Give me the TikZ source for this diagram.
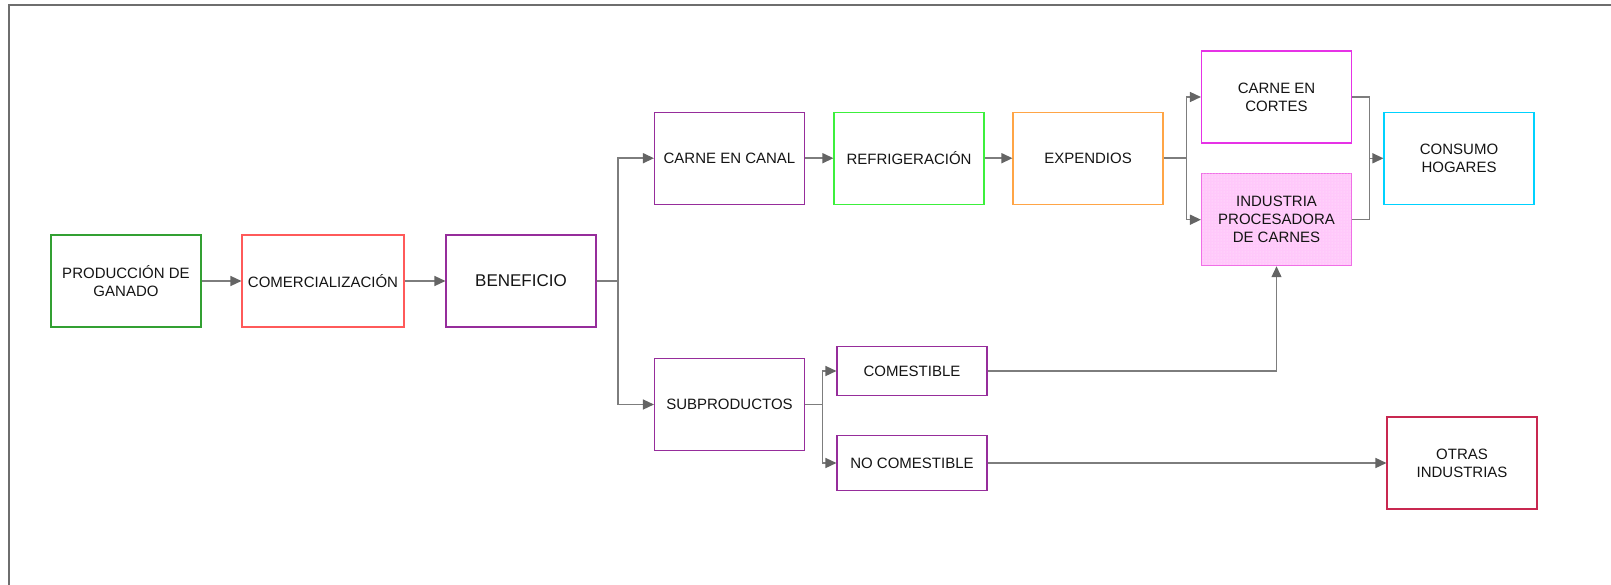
\documentclass[tikz,border=0pt]{standalone}
\usepackage{fontspec}
\setmainfont{Liberation Sans}
\usetikzlibrary{arrows.meta,patterns}
\definecolor{cframe}{RGB}{110,110,110}
\definecolor{cline}{RGB}{125,125,125}
\definecolor{chead}{RGB}{100,100,100}
\definecolor{cgreen}{RGB}{50,160,50}
\definecolor{cred}{RGB}{255,90,90}
\definecolor{cpurple}{RGB}{150,45,155}
\definecolor{clime}{RGB}{60,240,60}
\definecolor{corange}{RGB}{255,165,70}
\definecolor{cmagenta}{RGB}{230,50,230}
\definecolor{cpinkb}{RGB}{240,110,230}
\definecolor{cpinkf}{RGB}{255,200,250}
\definecolor{ccyan}{RGB}{0,210,255}
\definecolor{ccrimson}{RGB}{200,40,80}
\definecolor{ctext}{RGB}{20,20,20}
\tikzset{
  x=1pt,y=-1pt,
  box/.style={draw=#1,line width=1.1pt,minimum width=150pt,minimum height=92pt,
    inner sep=0pt,align=center,text=ctext,font=\fontsize{15}{18}\selectfont},
  smallbox/.style={box=#1,minimum height=50pt},
  conn/.style={draw=cline,line width=1.4pt},
  arr/.style={conn,-{Triangle[length=11pt,width=10pt,fill=chead,color=chead]}}
}
\begin{document}
\begin{tikzpicture}
\useasboundingbox (0,0) rectangle (1611,585);
\draw[cframe,line width=2.3pt] (8.7,600) -- (8.7,5) -- (1620,5);

\node[box=cgreen] (prod) at (126,281) {PRODUCCIÓN DE\\GANADO};
\node[box=cred,minimum width=162pt] (com) at (323,281) {COMERCIALIZACIÓN};
\node[box=cpurple,font=\fontsize{17}{20}\selectfont] (ben) at (521,281) {BENEFICIO};
\node[box=cpurple] (canal) at (729.5,158.2) {CARNE EN CANAL};
\node[box=clime] (refri) at (909,158.2) {REFRIGERACIÓN};
\node[box=corange] (exp) at (1088,158.2) {EXPENDIOS};
\node[box=cmagenta] (cortes) at (1276.5,97) {CARNE EN\\CORTES};
\node[box=cpinkb,fill=cpinkf,postaction={pattern=dots,pattern color=white!70!cpinkf}] (ind) at (1276.5,219.7) {};
\node[align=center,text=ctext,font=\fontsize{15}{18}\selectfont] (indt) at (ind.center) {INDUSTRIA\\PROCESADORA\\DE CARNES};
\node[box=ccyan] (cons) at (1459,158.3) {CONSUMO\\HOGARES};
\node[box=cpurple] (sub) at (729.5,404.5) {SUBPRODUCTOS};
\node[smallbox=cpurple,minimum height=49pt] (comest) at (912,371) {COMESTIBLE};
\node[smallbox=cpurple,minimum height=55pt] (nocom) at (912,463) {NO COMESTIBLE};
\node[box=ccrimson] (otras) at (1462,463) {OTRAS\\INDUSTRIAS};

\coordinate (j1) at (618,281);
\coordinate (j2) at (1186.6,158.2);
\coordinate (m) at (1369.3,158.3);
\coordinate (j3) at (822.7,404.5);

\draw[arr] (prod) -- (com);
\draw[arr] (com) -- (ben);
\draw[conn] (ben.east) -- (j1);
\draw[arr] (j1) |- (canal.west);
\draw[arr] (j1) |- (sub.west);
\draw[arr] (canal) -- (refri);
\draw[arr] (refri) -- (exp);
\draw[conn] (exp.east) -- (j2);
\draw[arr] (j2) |- (cortes.west);
\draw[arr] (j2) |- (ind.west);
\draw[conn] (cortes.east) -| (m);
\draw[conn] (ind.east) -| (m);
\draw[arr] (m) -- (cons.west);
\draw[conn] (sub.east) -- (j3);
\draw[arr] (j3) |- (comest.west);
\draw[arr] (j3) |- (nocom.west);
\draw[arr] (comest.east) -| (ind.south);
\draw[arr] (nocom) -- (otras);
\end{tikzpicture}
\end{document}
